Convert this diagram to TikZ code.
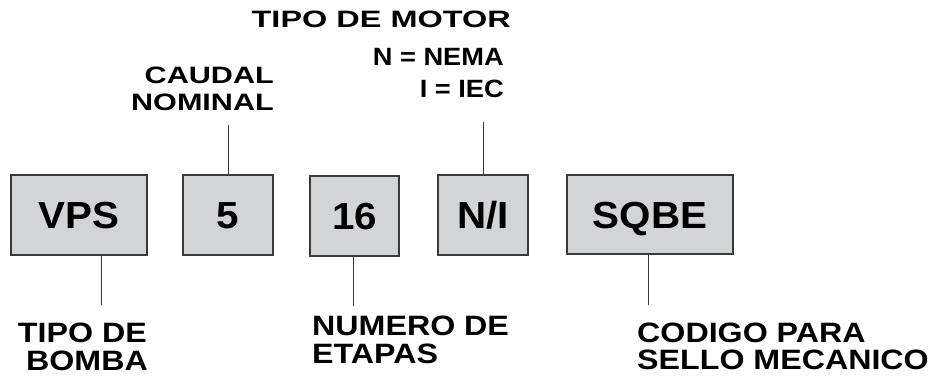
\documentclass[tikz,border=0pt]{standalone}
\usepackage{fontspec}
\newfontfamily\lblfont[FakeStretch=1.37]{Liberation Sans Bold}
\newfontfamily\lblfontb[FakeStretch=1.29]{Liberation Sans Bold}
\newfontfamily\lblfontc[FakeStretch=1.09]{Liberation Sans Bold}
\newfontfamily\lblfontd[FakeStretch=1.15]{Liberation Sans Bold}
\newfontfamily\boxfont[FakeStretch=1.07]{Liberation Sans Bold}
\definecolor{boxfill}{HTML}{D3D4D6}
\definecolor{edge}{HTML}{3A3A3A}
\begin{document}
\begin{tikzpicture}[x=1pt,y=-1pt,
  codebox/.style={draw=edge,fill=boxfill,line width=1.3pt,inner sep=0pt,
    font=\boxfont\fontsize{37.7}{40}\selectfont,text height=27pt,text depth=0pt},
  lbl/.style={inner sep=0pt,font=\lblfont\fontsize{23.7}{26}\selectfont},
  lblb/.style={inner sep=0pt,font=\lblfontb\fontsize{23.7}{26}\selectfont},
  lblc/.style={inner sep=0pt,font=\lblfontc\fontsize{25}{27}\selectfont},
  lbld/.style={inner sep=0pt,font=\lblfontd\fontsize{28}{30}\selectfont},
  tick/.style={draw=edge,line width=1pt}]
\useasboundingbox (0,0) rectangle (936,375);
% code boxes
\node[codebox,minimum width=136pt,minimum height=80pt] (vps) at (79,215) {VPS};
\node[codebox,minimum width=90pt,minimum height=80pt] (five) at (228,215) {5};
\node[codebox,minimum width=89pt,minimum height=80pt] (sixteen) at (354.5,216) {16};
\node[codebox,minimum width=90pt,minimum height=80pt] (ni) at (483,215) {N/I};
\node[codebox,minimum width=166pt,minimum height=79pt] (sqbe) at (650,214.5) {SQBE};
% labels
\node[lbld,anchor=base east] (bomba1) at (147,342) {TIPO DE};
\node[lbld,anchor=base east] (bomba2) at (148,370) {BOMBA};
\node[lbld,anchor=base west] (etapas1) at (312,335) {NUMERO DE};
\node[lbld,anchor=base west] (etapas2) at (312,363) {ETAPAS};
\node[lbld,anchor=base west] (sello1) at (637,342) {CODIGO PARA};
\node[lbld,anchor=base west] (sello2) at (637,369) {SELLO MECANICO};
\node[lblb,anchor=base east] (caudal1) at (274,83) {CAUDAL};
\node[lblb,anchor=base east] (caudal2) at (274,110) {NOMINAL};
\node[lbl,anchor=base east] (motor) at (511,27) {TIPO DE MOTOR};
\node[lblc,anchor=base east] (nema) at (504,65) {N = NEMA};
\node[lblc,anchor=base east] (iec) at (504,97) {I = IEC};
% connectors
\coordinate (e1) at (101,305);
\coordinate (e2) at (228,125);
\coordinate (e3) at (353,306);
\coordinate (e4) at (483,122);
\coordinate (e5) at (648,305);
\draw[tick] (vps.south -| e1) -- (e1);
\draw[tick] (five.north) -- (e2);
\draw[tick] (sixteen.south -| e3) -- (e3);
\draw[tick] (ni.north) -- (e4);
\draw[tick] (sqbe.south -| e5) -- (e5);
\end{tikzpicture}
\end{document}
